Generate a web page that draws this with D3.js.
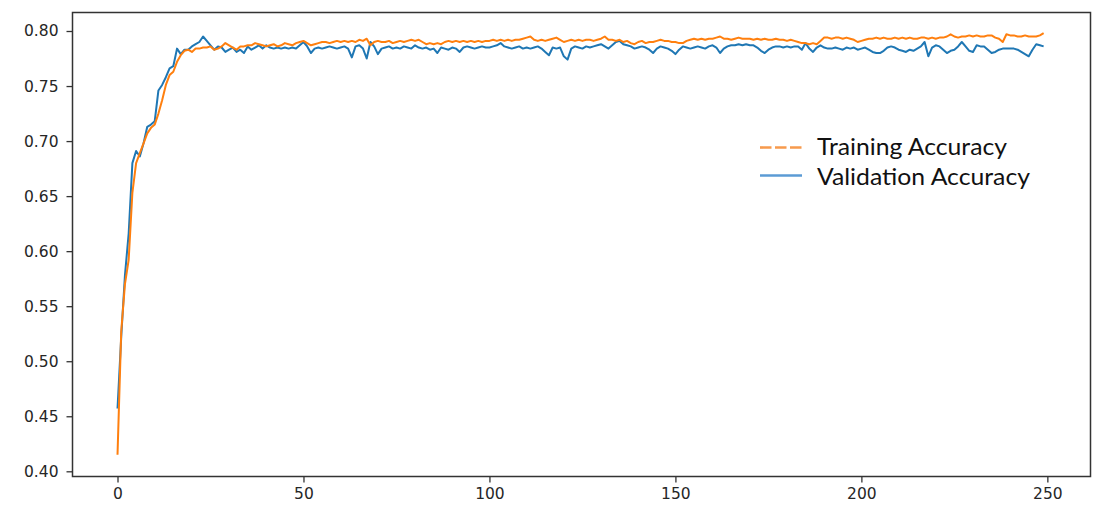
<!DOCTYPE html>
<html>
<head>
<meta charset="utf-8">
<script src="https://cdn.jsdelivr.net/npm/d3@7"></script>
<style>
  html, body { margin: 0; padding: 0; background: #fff; }
  svg { display: block; }
</style>
</head>
<body>
<svg id="chart" width="1104" height="517"></svg>
<script>
// ---- data ----
const trainingAccuracy = [
  0.415, 0.527, 0.570, 0.592, 0.653, 0.680, 0.689, 0.698, 0.707, 0.712,
  0.715, 0.725, 0.737, 0.751, 0.760, 0.763, 0.772, 0.778, 0.782, 0.783,
  0.781, 0.784, 0.784, 0.785, 0.785, 0.786, 0.783, 0.784, 0.786, 0.789,
  0.787, 0.785, 0.783, 0.786, 0.786, 0.787, 0.787, 0.789, 0.788, 0.787,
  0.786, 0.787, 0.788, 0.786, 0.787, 0.789, 0.788, 0.787, 0.789, 0.790,
  0.791, 0.789, 0.787, 0.788, 0.789, 0.790, 0.790, 0.789, 0.790, 0.791,
  0.790, 0.791, 0.790, 0.791, 0.790, 0.792, 0.791, 0.793, 0.787, 0.790,
  0.791, 0.790, 0.790, 0.791, 0.789, 0.790, 0.791, 0.790, 0.791, 0.792,
  0.791, 0.792, 0.790, 0.788, 0.789, 0.788, 0.789, 0.788, 0.790, 0.791,
  0.790, 0.791, 0.790, 0.791, 0.790, 0.791, 0.790, 0.791, 0.790, 0.791,
  0.791, 0.792, 0.791, 0.792, 0.791, 0.792, 0.791, 0.792, 0.792, 0.793,
  0.794, 0.795, 0.792, 0.791, 0.792, 0.791, 0.792, 0.793, 0.794, 0.792,
  0.790, 0.791, 0.792, 0.791, 0.792, 0.791, 0.792, 0.792, 0.791, 0.792,
  0.793, 0.795, 0.792, 0.792, 0.791, 0.792, 0.790, 0.791, 0.789, 0.788,
  0.790, 0.791, 0.789, 0.790, 0.790, 0.791, 0.792, 0.791, 0.791, 0.790,
  0.790, 0.789, 0.789, 0.791, 0.792, 0.793, 0.792, 0.793, 0.792, 0.793,
  0.793, 0.794, 0.795, 0.793, 0.793, 0.792, 0.793, 0.794, 0.793, 0.793,
  0.793, 0.792, 0.793, 0.792, 0.793, 0.792, 0.792, 0.793, 0.792, 0.792,
  0.791, 0.792, 0.791, 0.790, 0.789, 0.789, 0.788, 0.789, 0.788, 0.791,
  0.794, 0.794, 0.793, 0.794, 0.794, 0.793, 0.794, 0.793, 0.792, 0.790,
  0.791, 0.792, 0.793, 0.793, 0.794, 0.793, 0.794, 0.793, 0.793, 0.794,
  0.793, 0.794, 0.793, 0.794, 0.793, 0.793, 0.794, 0.794, 0.793, 0.794,
  0.793, 0.794, 0.794, 0.795, 0.797, 0.795, 0.794, 0.795, 0.795, 0.796,
  0.795, 0.796, 0.795, 0.795, 0.796, 0.796, 0.794, 0.793, 0.790, 0.797,
  0.796, 0.796, 0.795, 0.795, 0.796, 0.795, 0.795, 0.795, 0.796, 0.798
];
const validationAccuracy = [
  0.457, 0.522, 0.578, 0.616, 0.680, 0.691, 0.686, 0.698, 0.713, 0.715,
  0.718, 0.746, 0.751, 0.758, 0.766, 0.768, 0.784, 0.779, 0.783, 0.783,
  0.786, 0.788, 0.790, 0.795, 0.791, 0.787, 0.783, 0.786, 0.785, 0.781,
  0.783, 0.785, 0.781, 0.783, 0.780, 0.786, 0.783, 0.785, 0.787, 0.784,
  0.787, 0.785, 0.784, 0.785, 0.784, 0.785, 0.784, 0.785, 0.784, 0.787,
  0.790, 0.786, 0.780, 0.784, 0.785, 0.784, 0.785, 0.786, 0.785, 0.784,
  0.785, 0.786, 0.784, 0.776, 0.786, 0.787, 0.784, 0.775, 0.790, 0.786,
  0.779, 0.784, 0.785, 0.786, 0.784, 0.785, 0.784, 0.786, 0.785, 0.784,
  0.787, 0.785, 0.784, 0.785, 0.783, 0.784, 0.780, 0.785, 0.784, 0.783,
  0.785, 0.784, 0.781, 0.785, 0.786, 0.785, 0.784, 0.785, 0.786, 0.785,
  0.785, 0.786, 0.787, 0.789, 0.786, 0.785, 0.784, 0.785, 0.786, 0.784,
  0.785, 0.784, 0.785, 0.786, 0.784, 0.781, 0.778, 0.785, 0.784, 0.785,
  0.777, 0.774, 0.784, 0.786, 0.785, 0.784, 0.786, 0.785, 0.786, 0.787,
  0.788, 0.786, 0.784, 0.787, 0.790, 0.791, 0.788, 0.787, 0.786, 0.784,
  0.785, 0.786, 0.785, 0.783, 0.780, 0.784, 0.786, 0.785, 0.784, 0.782,
  0.779, 0.783, 0.786, 0.785, 0.784, 0.785, 0.786, 0.785, 0.784, 0.786,
  0.787, 0.785, 0.780, 0.784, 0.786, 0.787, 0.787, 0.788, 0.787, 0.788,
  0.787, 0.787, 0.785, 0.782, 0.780, 0.783, 0.785, 0.786, 0.786, 0.785,
  0.786, 0.785, 0.786, 0.786, 0.783, 0.789, 0.784, 0.781, 0.785, 0.787,
  0.785, 0.784, 0.784, 0.785, 0.784, 0.783, 0.785, 0.784, 0.785, 0.783,
  0.784, 0.785, 0.783, 0.781, 0.780, 0.780, 0.782, 0.785, 0.786, 0.785,
  0.783, 0.782, 0.781, 0.783, 0.782, 0.784, 0.786, 0.790, 0.777, 0.785,
  0.787, 0.786, 0.783, 0.780, 0.782, 0.783, 0.786, 0.790, 0.786, 0.782,
  0.781, 0.787, 0.786, 0.786, 0.783, 0.780, 0.781, 0.783, 0.784, 0.784,
  0.784, 0.784, 0.783, 0.781, 0.779, 0.777, 0.783, 0.788, 0.787, 0.786
];
const yTicks = [0.40, 0.45, 0.50, 0.55, 0.60, 0.65, 0.70, 0.75, 0.80];
const xTicks = [0, 50, 100, 150, 200, 250];
const seriesNames = ["Training Accuracy", "Validation Accuracy"];

// ---- layout ----
const plot = { left: 72.5, right: 1090.5, top: 12.5, bottom: 476.5 };
const svg = d3.select("#chart");

const x = d3.scaleLinear().domain([-12.1, 261.6]).range([plot.left, plot.right]);
const y = d3.scaleLinear().domain([0.39528, 0.81681]).range([plot.bottom, plot.top]);

const axisColor = "#333333";
const textColor = "#262626";

// lines
const line = d3.line().x((d, i) => x(i)).y(d => y(d));
svg.append("path").datum(validationAccuracy)
  .attr("d", line).attr("fill", "none")
  .attr("stroke", "#1f77b4").attr("stroke-width", 2).attr("stroke-linejoin", "round");
svg.append("path").datum(trainingAccuracy)
  .attr("d", line).attr("fill", "none")
  .attr("stroke", "#ff7f0e").attr("stroke-width", 2).attr("stroke-linejoin", "round");

// axes
const xAxis = d3.axisBottom(x).tickValues(xTicks).tickFormat(d3.format("d")).tickSize(6).tickPadding(5);
const yAxis = d3.axisLeft(y).tickValues(yTicks).tickFormat(d3.format(".2f")).tickSize(6).tickPadding(8);

const gx = svg.append("g").attr("transform", `translate(0,${plot.bottom})`).call(xAxis);
const gy = svg.append("g").attr("transform", `translate(${plot.left},0)`).call(yAxis);
[gx, gy].forEach(g => {
  g.select(".domain").remove();
  g.selectAll(".tick line").attr("stroke", axisColor).attr("stroke-width", 1.3);
  g.selectAll(".tick text").attr("fill", textColor)
    .style("font-family", "'DejaVu Sans', sans-serif").style("font-size", "15.5px");
});

// frame
svg.append("rect")
  .attr("x", plot.left).attr("y", plot.top)
  .attr("width", plot.right - plot.left).attr("height", plot.bottom - plot.top)
  .attr("fill", "none").attr("stroke", axisColor).attr("stroke-width", 1.5);

// legend
const legend = svg.append("g");
const legendItems = [
  { name: seriesNames[0], color: "#f79a4d", dash: "11.5,3.5", ly: 147.5, ty: 154.5, len: 190 },
  { name: seriesNames[1], color: "#5b9bd5", dash: null, ly: 175.5, ty: 184.5, len: 213 }
];
legendItems.forEach(it => {
  legend.append("line")
    .attr("x1", 760).attr("x2", 802).attr("y1", it.ly).attr("y2", it.ly)
    .attr("stroke", it.color).attr("stroke-width", 2.6)
    .attr("stroke-dasharray", it.dash);
  legend.append("text")
    .attr("x", 817).attr("y", it.ty)
    .attr("fill", "#111")
    .attr("textLength", it.len).attr("lengthAdjust", "spacingAndGlyphs")
    .style("font-family", "Lato, 'Open Sans', sans-serif").style("font-size", "24px")
    .text(it.name);
});
</script>
</body>
</html>
